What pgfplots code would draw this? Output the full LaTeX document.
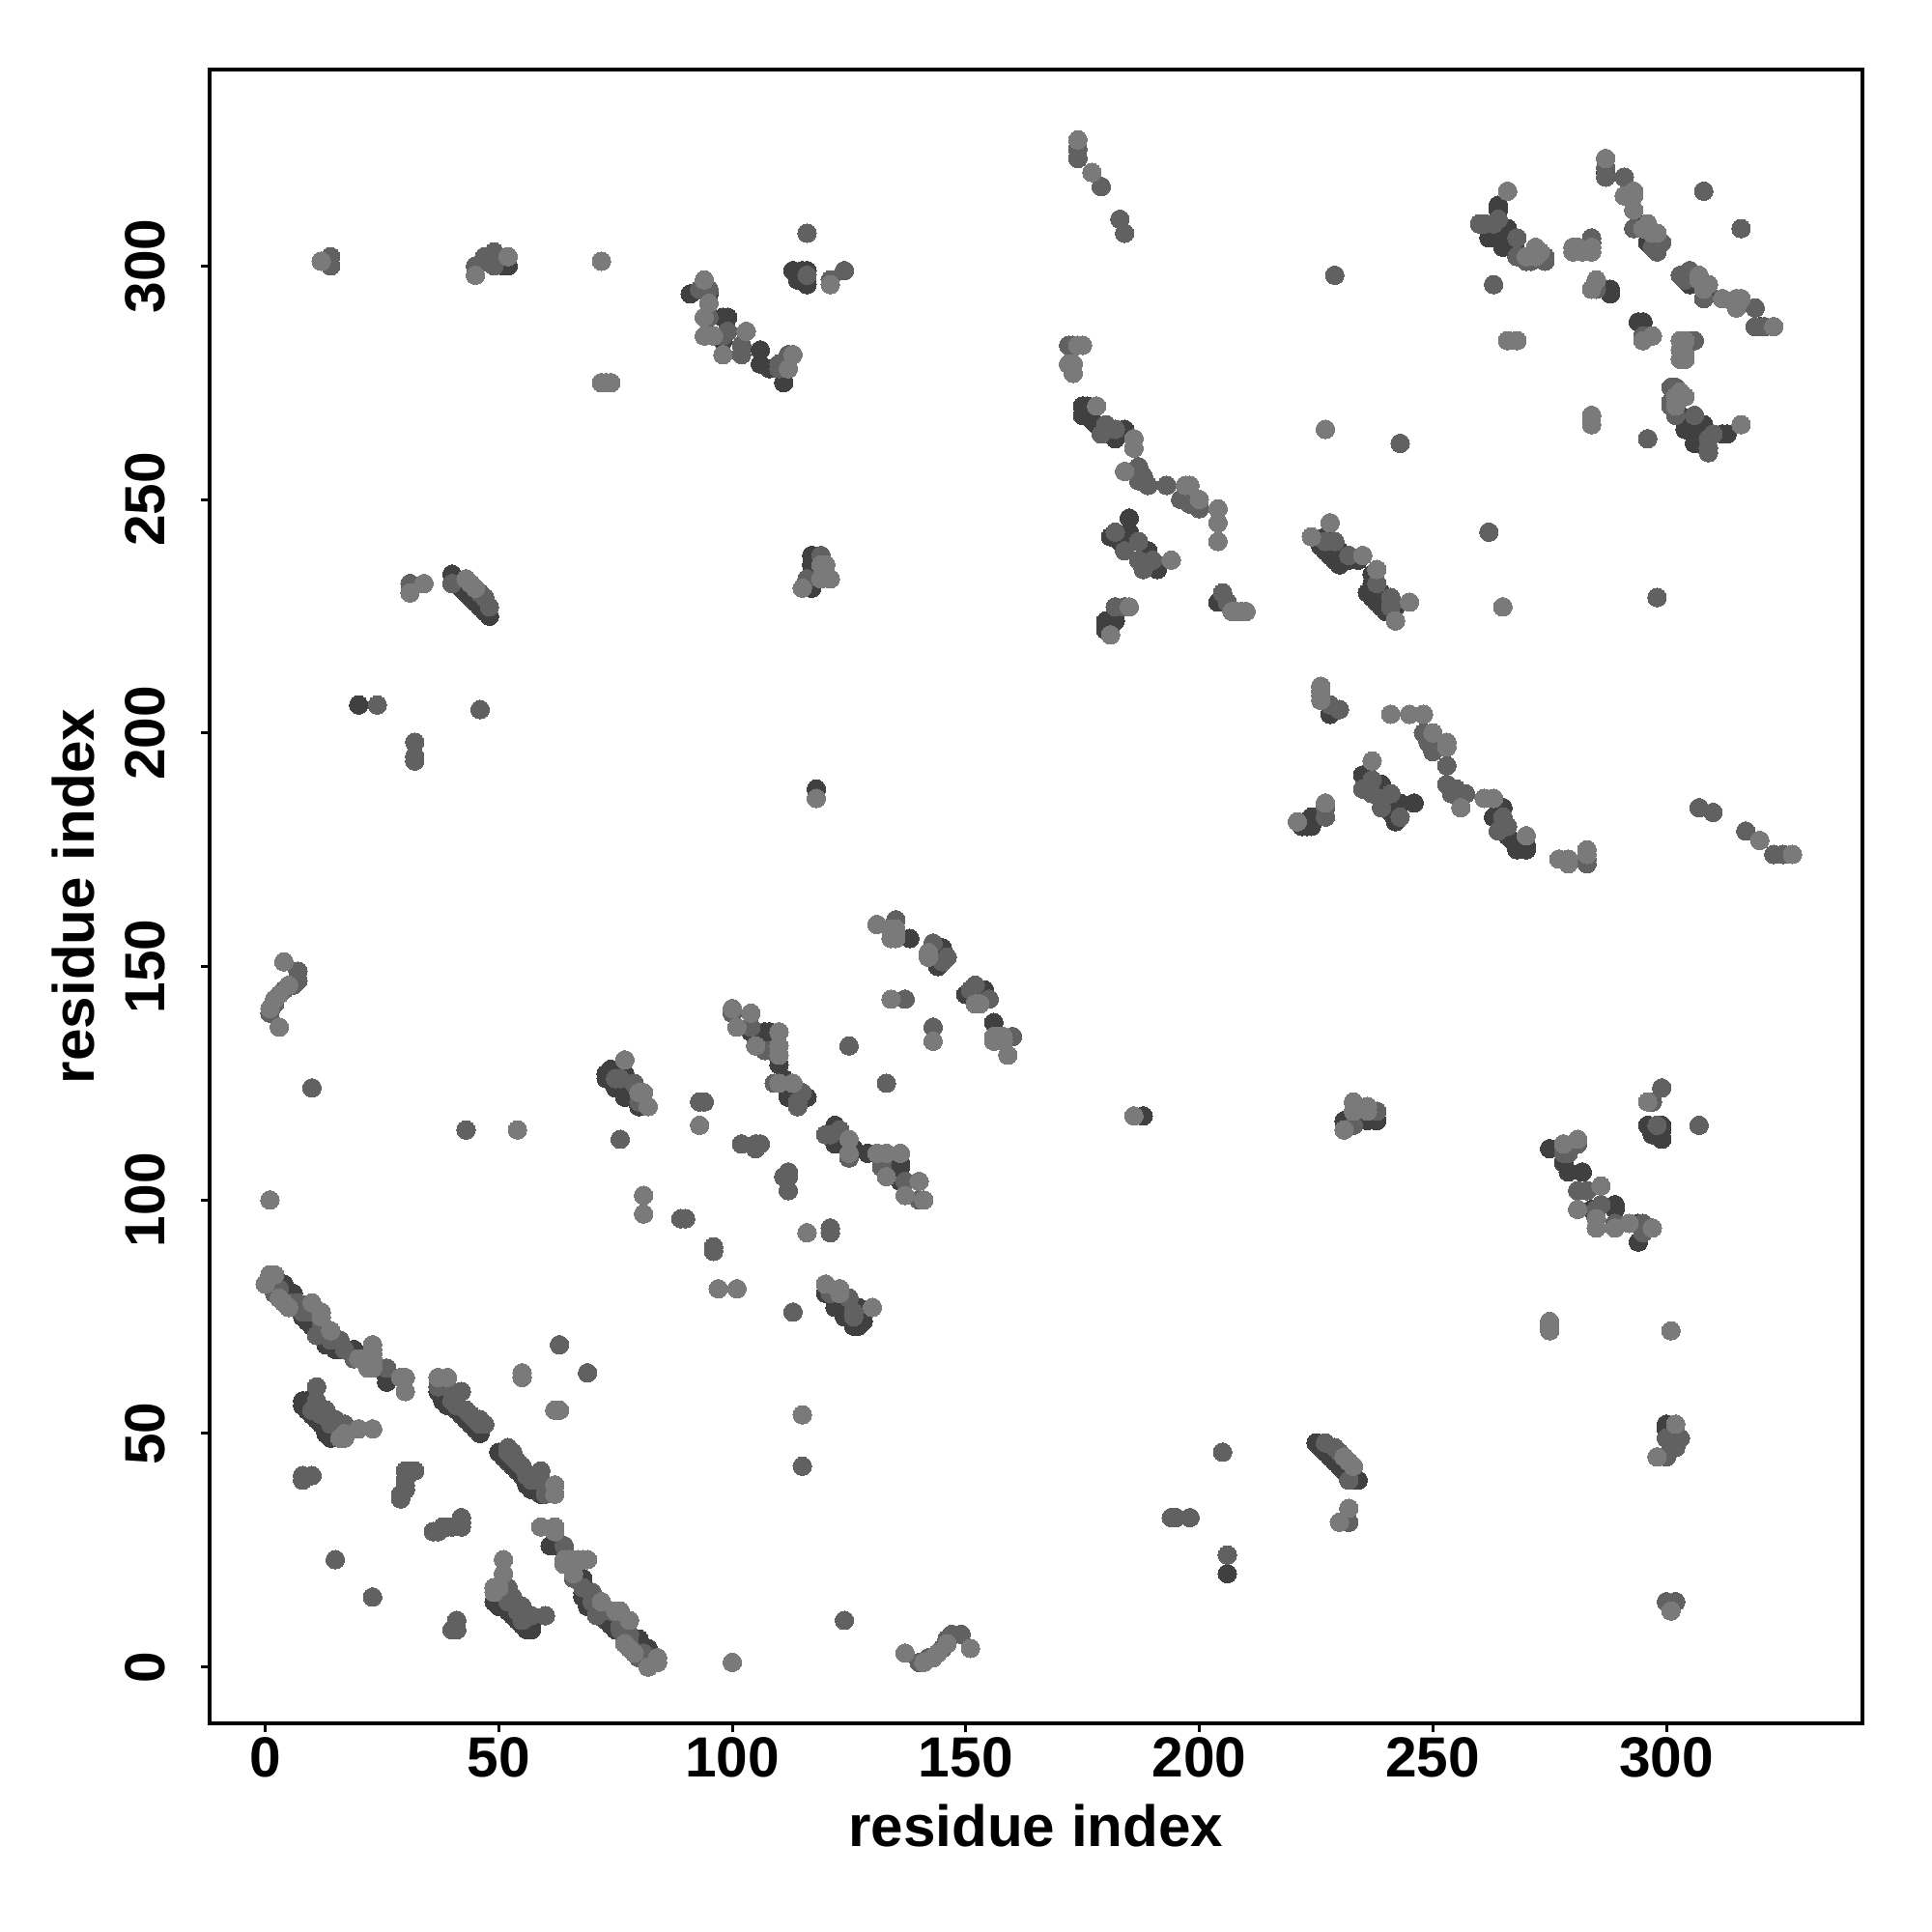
\documentclass[border=0pt]{standalone}
\usepackage{fontspec}
\setmainfont{Liberation Sans}
\usepackage{pgfplots}
\usepackage{pgfplotstable}
\pgfplotsset{compat=1.18}
\definecolor{ptD}{gray}{0.25}
\definecolor{ptM}{gray}{0.38}
\definecolor{ptL}{gray}{0.48}
\pgfplotstableread[row sep=\\]{a b\\
1 82\\2 81\\3 80\\4 82\\5 80\\6 80\\8 75\\9 74\\10 73\\11 72\\12 71\\13 69\\14 69\\15 68\\16 68\\19 68\\26 62\\26 61\\
8 56\\8 57\\9 57\\9 55\\10 54\\11 53\\12 52\\13 50\\14 49\\15 51\\16 50\\
37 59\\38 58\\39 57\\40 56\\41 55\\42 54\\43 53\\44 52\\45 51\\46 50\\38 57\\39 56\\
73 126\\73 127\\74 128\\74 126\\75 124\\76 125\\77 122\\77 127\\78 123\\79 124\\80 120\\
104 136\\107 136\\110 129\\111 125\\112 122\\116 122\\111 126\\112 123\\108 136\\138 156\\145 154\\144 151\\144 150\\
264 312\\264 313\\266 307\\262 306\\262 308\\263 307\\264 306\\265 305\\288 294\\288 295\\287 320\\294 309\\295 308\\296 307\\297 305\\298 304\\304 297\\305 296\\308 293\\294 288\\295 288\\306 268\\308 266\\304 265\\306 262\\312 264\\309 261\\305 266\\303 268\\
175 270\\176 270\\175 268\\177 267\\176 268\\178 266\\182 263\\184 265\\182 264\\185 246\\185 243\\181 242\\189 239\\191 236\\191 235\\183 241\\
227 242\\228 241\\229 240\\230 239\\231 238\\234 237\\232 237\\236 230\\237 229\\238 228\\239 227\\240 226\\241 226\\
182 224\\180 224\\180 223\\180 222\\181 223\\204 228\\
51 300\\52 300\\113 299\\115 299\\116 299\\114 297\\116 296\\91 294\\95 294\\98 289\\98 284\\106 282\\106 279\\108 278\\111 275\\99 289\\
40 234\\41 232\\42 231\\43 230\\44 229\\45 228\\46 227\\47 226\\48 225\\
117 238\\117 236\\117 231\\118 188\\20 206\\
}\tabD
\pgfplotstableread[row sep=\\]{a b\\
1 83\\2 80\\3 81\\5 78\\6 77\\7 78\\8 76\\9 76\\10 77\\11 71\\12 74\\13 72\\14 70\\16 70\\17 68\\19 66\\26 64\\
11 60\\11 57\\15 53\\16 51\\17 52\\10 55\\14 52\\13 55\\12 54\\14 53\\
42 59\\41 58\\40 57\\37 60\\40 59\\43 55\\47 52\\46 52\\44 54\\45 53\\46 53\\41 56\\
63 69\\15 23\\8 40\\8 41\\10 41\\30 42\\31 42\\32 42\\30 40\\30 39\\29 37\\29 36\\30 38\\
1 140\\4 145\\7 147\\7 149\\6 146\\2 142\\
10 124\\43 115\\46 205\\24 206\\32 198\\32 195\\32 194\\
76 113\\93 121\\94 121\\102 112\\105 111\\105 112\\106 112\\89 96\\90 96\\
76 126\\79 125\\80 121\\75 126\\
100 140\\104 137\\107 132\\109 125\\115 123\\114 121\\114 120\\125 133\\137 143\\
135 160\\143 155\\146 152\\145 151\\108 132\\
174 323\\174 325\\179 317\\183 310\\184 307\\229 298\\260 309\\261 309\\268 306\\274 302\\284 306\\284 295\\287 323\\291 319\\293 312\\293 308\\299 305\\297 304\\303 298\\306 298\\295 285\\305 284\\308 316\\316 308\\319 291\\319 287\\321 287\\172 283\\173 283\\301 274\\301 271\\301 270\\302 268\\309 263\\309 260\\310 264\\263 296\\296 263\\227 265\\243 262\\298 229\\262 243\\
180 266\\179 264\\182 265\\187 257\\188 255\\189 253\\187 254\\193 253\\196 250\\198 249\\200 248\\182 243\\187 241\\184 239\\187 237\\190 237\\188 235\\
227 241\\238 232\\241 229\\184 227\\182 227\\205 230\\206 228\\
13 301\\47 301\\48 301\\45 300\\49 300\\47 302\\49 303\\14 302\\14 300\\
116 307\\121 297\\124 299\\95 295\\93 295\\95 289\\98 285\\99 286\\102 281\\102 283\\110 278\\112 281\\110 279\\
31 232\\40 232\\46 230\\47 229\\48 227\\119 238\\116 233\\116 298\\
}\tabM
\pgfplotstableread[row sep=\\]{a b\\
1 84\\2 84\\0 82\\3 79\\4 78\\5 77\\10 78\\12 76\\12 75\\14 72\\20 66\\23 69\\23 68\\23 67\\23 66\\23 65\\23 64\\22 64\\30 62\\29 62\\30 59\\
17 50\\17 49\\20 51\\23 51\\16 49\\
37 62\\39 62\\55 62\\55 63\\
1 100\\3 137\\2 143\\3 144\\4 151\\5 146\\1 141\\54 115\\
81 101\\81 97\\93 116\\81 123\\82 120\\77 130\\80 123\\
100 141\\101 137\\104 140\\110 136\\105 133\\110 133\\110 131\\113 125\\110 125\\
131 159\\135 156\\135 157\\135 158\\142 153\\134 156\\134 158\\142 152\\134 143\\
174 327\\177 320\\266 316\\272 304\\270 302\\272 302\\280 304\\281 304\\284 304\\285 297\\293 315\\293 316\\291 315\\296 309\\298 307\\307 297\\308 295\\312 293\\315 293\\315 291\\316 293\\323 287\\297 285\\295 284\\303 284\\303 280\\303 282\\266 284\\268 284\\174 283\\175 283\\172 279\\173 279\\173 277\\303 273\\316 266\\284 268\\284 266\\265 227\\
178 270\\186 263\\186 261\\184 256\\197 253\\198 253\\200 250\\204 248\\204 245\\204 241\\194 237\\228 245\\224 242\\235 238\\242 224\\245 228\\181 221\\185 227\\207 226\\209 226\\210 226\\226 210\\226 208\\
12 301\\45 298\\52 302\\72 301\\72 275\\73 275\\74 275\\
94 297\\95 292\\94 289\\94 285\\96 285\\98 281\\103 286\\113 281\\112 278\\121 296\\
31 230\\34 232\\43 233\\44 232\\45 231\\119 236\\120 236\\121 233\\115 231\\119 233\\118 186\\
}\tabL
\begin{document}
\begin{tikzpicture}
\useasboundingbox (0,0) rectangle (1000bp,1000bp);
\begin{axis}[
  at={(108.4bp,108bp)}, anchor=south west,
  scale only axis, width=855.5bp, height=856bp,
  xmin=-11.95, xmax=341.95, ymin=-12.05, ymax=342.05,
  axis line style={line width=2bp, line cap=rect},
  xtick={0,50,...,300}, ytick={0,50,...,300},
  tick style={line width=1.5bp, black},
  tick align=outside, major tick length=4.5bp,
  xtick pos=bottom, ytick pos=left,
  /pgf/number format/assume math mode=true,
  tick label style={font=\fontsize{29.3bp}{34bp}\selectfont\bfseries},
  xticklabel style={anchor=base, yshift=-23bp},
  yticklabel style={rotate=90, anchor=base, yshift=18.5bp},
  label style={font=\fontsize{30.1bp}{34bp}\selectfont\bfseries},
  xlabel={residue index}, ylabel={residue index},
  xlabel style={at={(axis description cs:0.5,0)}, anchor=base, yshift=-63.5bp},
  ylabel style={at={(axis description cs:0,0.5)}, rotate=0, anchor=base, yshift=59.5bp},
  clip=true,
]
\addplot[only marks, mark=*, mark size=4.8bp, mark options={draw=ptD, fill=ptD, line width=0pt}] table[x=a,y=b] {\tabD};
\addplot[only marks, mark=*, mark size=4.8bp, mark options={draw=ptD, fill=ptD, line width=0pt}] table[x=b,y=a] {\tabD};
\addplot[only marks, mark=*, mark size=4.8bp, mark options={draw=ptM, fill=ptM, line width=0pt}] table[x=a,y=b] {\tabM};
\addplot[only marks, mark=*, mark size=4.8bp, mark options={draw=ptM, fill=ptM, line width=0pt}] table[x=b,y=a] {\tabM};
\addplot[only marks, mark=*, mark size=4.8bp, mark options={draw=ptL, fill=ptL, line width=0pt}] table[x=a,y=b] {\tabL};
\addplot[only marks, mark=*, mark size=4.8bp, mark options={draw=ptL, fill=ptL, line width=0pt}] table[x=b,y=a] {\tabL};
\end{axis}
\end{tikzpicture}
\end{document}
